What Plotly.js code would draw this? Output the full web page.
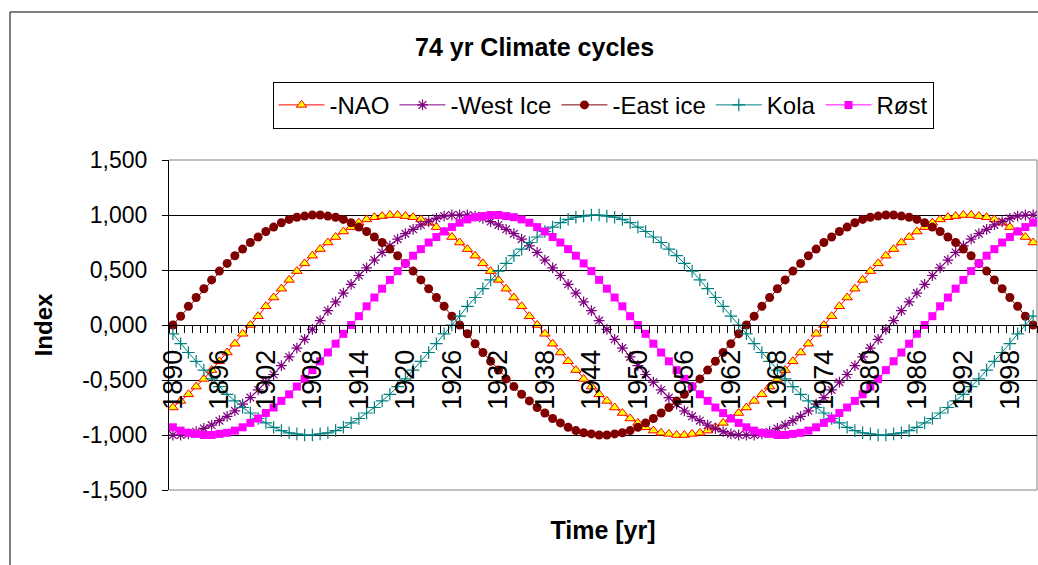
<!DOCTYPE html>
<html>
<head>
<meta charset="utf-8">
<script src="https://cdn.plot.ly/plotly-3.0.1.min.js"></script>
<style>html,body{margin:0;padding:0;background:#fff;}#chart{width:1038px;height:565px;}</style>
</head>
<body>
<div id="chart"></div>
<script>
var years = [1890,1891,1892,1893,1894,1895,1896,1897,1898,1899,1900,1901,1902,1903,1904,1905,1906,1907,1908,1909,
1910,1911,1912,1913,1914,1915,1916,1917,1918,1919,1920,1921,1922,1923,1924,1925,1926,1927,1928,1929,
1930,1931,1932,1933,1934,1935,1936,1937,1938,1939,1940,1941,1942,1943,1944,1945,1946,1947,1948,1949,
1950,1951,1952,1953,1954,1955,1956,1957,1958,1959,1960,1961,1962,1963,1964,1965,1966,1967,1968,1969,
1970,1971,1972,1973,1974,1975,1976,1977,1978,1979,1980,1981,1982,1983,1984,1985,1986,1987,1988,1989,
1990,1991,1992,1993,1994,1995,1996,1997,1998,1999,2000,2001];

var nao = [-0.75,-0.69,-0.63,-0.56,-0.49,-0.41,-0.33,-0.25,-0.17,-0.08,0,0.08,0.17,0.25,0.33,0.41,0.49,0.56,0.63,0.69,0.75,0.8,0.85,0.89,0.93,0.96,0.98,0.99,1,
1,0.99,0.98,0.96,0.93,0.89,0.85,0.8,0.75,0.69,0.63,0.56,0.49,0.41,0.33,0.25,0.17,0.08,0,-0.08,-0.17,-0.25,-0.33,-0.41,-0.49,-0.56,-0.63,-0.69,-0.75,-0.8,-0.85,-0.89,-0.93,-0.96,-0.98,-0.99,-1,
-1,-0.99,-0.98,-0.96,-0.93,-0.89,-0.85,-0.8,-0.75,-0.69,-0.63,-0.56,-0.49,-0.41,-0.33,-0.25,-0.17,-0.08,0,0.08,0.17,0.25,0.33,0.41,0.49,0.56,0.63,0.69,0.75,0.8,0.85,0.89,0.93,0.96,0.98,0.99,1,
1,0.99,0.98,0.96,0.93,0.89,0.85,0.8,0.75];

var westIce = [-1,-1,-0.99,-0.97,-0.94,-0.91,-0.87,-0.83,-0.78,-0.72,-0.66,-0.59,-0.52,-0.45,-0.37,-0.29,-0.21,-0.13,-0.04,0.04,0.13,0.21,0.29,0.37,0.45,0.52,0.59,0.66,0.72,0.78,0.83,0.87,0.91,0.94,0.97,0.99,1,1,
1,0.99,0.97,0.94,0.91,0.87,0.83,0.78,0.72,0.66,0.59,0.52,0.45,0.37,0.29,0.21,0.13,0.04,-0.04,-0.13,-0.21,-0.29,-0.37,-0.45,-0.52,-0.59,-0.66,-0.72,-0.78,-0.83,-0.87,-0.91,-0.94,-0.97,-0.99,-1,-1,
-1,-0.99,-0.97,-0.94,-0.91,-0.87,-0.83,-0.78,-0.72,-0.66,-0.59,-0.52,-0.45,-0.37,-0.29,-0.21,-0.13,-0.04,0.04,0.13,0.21,0.29,0.37,0.45,0.52,0.59,0.66,0.72,0.78,0.83,0.87,0.91,0.94,0.97,0.99,1,1];

var eastIce = [0,0.08,0.17,0.25,0.33,0.41,0.49,0.56,0.63,0.69,0.75,0.8,0.85,0.89,0.93,0.96,0.98,0.99,1,
1,0.99,0.98,0.96,0.93,0.89,0.85,0.8,0.75,0.69,0.63,0.56,0.49,0.41,0.33,0.25,0.17,0.08,0,-0.08,-0.17,-0.25,-0.33,-0.41,-0.49,-0.56,-0.63,-0.69,-0.75,-0.8,-0.85,-0.89,-0.93,-0.96,-0.98,-0.99,-1,
-1,-0.99,-0.98,-0.96,-0.93,-0.89,-0.85,-0.8,-0.75,-0.69,-0.63,-0.56,-0.49,-0.41,-0.33,-0.25,-0.17,-0.08,0,0.08,0.17,0.25,0.33,0.41,0.49,0.56,0.63,0.69,0.75,0.8,0.85,0.89,0.93,0.96,0.98,0.99,1,
1,0.99,0.98,0.96,0.93,0.89,0.85,0.8,0.75,0.69,0.63,0.56,0.49,0.41,0.33,0.25,0.17,0.08,0];

var kola = [-0.08,-0.17,-0.25,-0.33,-0.41,-0.49,-0.56,-0.63,-0.69,-0.75,-0.8,-0.85,-0.89,-0.93,-0.96,-0.98,-0.99,-1,
-1,-0.99,-0.98,-0.96,-0.93,-0.89,-0.85,-0.8,-0.75,-0.69,-0.63,-0.56,-0.49,-0.41,-0.33,-0.25,-0.17,-0.08,0,0.08,0.17,0.25,0.33,0.41,0.49,0.56,0.63,0.69,0.75,0.8,0.85,0.89,0.93,0.96,0.98,0.99,1,
1,0.99,0.98,0.96,0.93,0.89,0.85,0.8,0.75,0.69,0.63,0.56,0.49,0.41,0.33,0.25,0.17,0.08,0,-0.08,-0.17,-0.25,-0.33,-0.41,-0.49,-0.56,-0.63,-0.69,-0.75,-0.8,-0.85,-0.89,-0.93,-0.96,-0.98,-0.99,-1,
-1,-0.99,-0.98,-0.96,-0.93,-0.89,-0.85,-0.8,-0.75,-0.69,-0.63,-0.56,-0.49,-0.41,-0.33,-0.25,-0.17,-0.08,0,0.08];

var rost = [-0.93,-0.96,-0.98,-0.99,-1,
-1,-0.99,-0.98,-0.96,-0.93,-0.89,-0.85,-0.8,-0.75,-0.69,-0.63,-0.56,-0.49,-0.41,-0.33,-0.25,-0.17,-0.08,0,0.08,0.17,0.25,0.33,0.41,0.49,0.56,0.63,0.69,0.75,0.8,0.85,0.89,0.93,0.96,0.98,0.99,1,
1,0.99,0.98,0.96,0.93,0.89,0.85,0.8,0.75,0.69,0.63,0.56,0.49,0.41,0.33,0.25,0.17,0.08,0,-0.08,-0.17,-0.25,-0.33,-0.41,-0.49,-0.56,-0.63,-0.69,-0.75,-0.8,-0.85,-0.89,-0.93,-0.96,-0.98,-0.99,-1,
-1,-0.99,-0.98,-0.96,-0.93,-0.89,-0.85,-0.8,-0.75,-0.69,-0.63,-0.56,-0.49,-0.41,-0.33,-0.25,-0.17,-0.08,0,0.08,0.17,0.25,0.33,0.41,0.49,0.56,0.63,0.69,0.75,0.8,0.85,0.89,0.93];

var xTickVals = [1890,1896,1902,1908,1914,1920,1926,1932,1938,1944,1950,1956,1962,1968,1974,1980,1986,1992,1998];
var xTickText = ["1890","1896","1902","1908","1914","1920","1926","1932","1938","1944","1950","1956","1962","1968","1974","1980","1986","1992","1998"];
var yTickVals = [-1.5,-1,-0.5,0,0.5,1,1.5];
var yTickText = ["-1,500","-1,000","-0,500","0,000","0,500","1,000","1,500"];

var FONT = "'Liberation Sans', Arial, sans-serif";

var traces = [
  {x: years, y: nao, name: "-NAO", type: "scatter", mode: "lines+markers",
   line: {color: "#FF0000", width: 1},
   marker: {symbol: "triangle-up", size: 9, color: "#FFFF00", line: {color: "#FF0000", width: 1}}},
  {x: years, y: westIce, name: "-West Ice", type: "scatter", mode: "lines+markers",
   line: {color: "#800080", width: 1},
   marker: {symbol: "asterisk-open", size: 9, color: "#800080", line: {color: "#800080", width: 1.2}}},
  {x: years, y: eastIce, name: "-East ice", type: "scatter", mode: "lines+markers",
   line: {color: "#800000", width: 1},
   marker: {symbol: "circle", size: 9, color: "#800000"}},
  {x: years, y: kola, name: "Kola", type: "scatter", mode: "lines+markers",
   line: {color: "#008080", width: 1},
   marker: {symbol: "cross-thin-open", size: 9, color: "#008080", line: {color: "#008080", width: 1.2}}},
  {x: years, y: rost, name: "Røst", type: "scatter", mode: "lines+markers",
   line: {color: "#FF00FF", width: 1},
   marker: {symbol: "square", size: 8, color: "#FF00FF"}}
];

var layout = {
  width: 1038, height: 565,
  margin: {l: 169, r: 1, t: 160, b: 75, pad: 0},
  paper_bgcolor: "#ffffff", plot_bgcolor: "#ffffff",
  font: {family: FONT, color: "#000000"},
  showlegend: true,
  title: {text: "74 yr Climate cycles", x: 0.515, xref: "container", xanchor: "center",
          y: 0.917, yref: "container", yanchor: "middle",
          font: {family: FONT, size: 25, weight: "bold", color: "#000"}},
  legend: {orientation: "h", x: 0.5, xanchor: "center", y: 1.237, yanchor: "top",
           bordercolor: "#000000", borderwidth: 1, bgcolor: "#ffffff",
           font: {family: FONT, size: 24, color: "#000"}, itemwidth: 46},
  xaxis: {type: "linear", anchor: "free", position: 0.5, side: "bottom",
          range: [1889.5, 2001.5], showgrid: false, zeroline: false,
          showline: true, linecolor: "#000000", linewidth: 1,
          tickmode: "array", tickvals: xTickVals, ticktext: xTickText, ticks: "",
          tickangle: -90, ticklabelstandoff: 13,
          tickfont: {family: FONT, size: 27, color: "#000"},
          minor: {tickmode: "linear", tick0: 1889.5, dtick: 1, ticks: "outside", ticklen: 7, tickcolor: "#000", tickwidth: 1, showgrid: false},
          title: {text: "Time [yr]", standoff: 112, font: {family: FONT, size: 25, weight: "bold", color: "#000"}}},
  yaxis: {range: [-1.5, 1.5], tickmode: "array", tickvals: yTickVals, ticktext: yTickText,
          showgrid: true, gridcolor: "#000000", gridwidth: 1, zeroline: false,
          showline: true, linecolor: "#000000", linewidth: 1,
          ticks: "outside", ticklen: 6, tickcolor: "#000", ticklabelstandoff: 10,
          tickfont: {family: FONT, size: 23, color: "#000"},
          title: {text: "Index", standoff: 22, font: {family: FONT, size: 24, weight: "bold", color: "#000"}}},
  shapes: [
    {type: "path", xref: "paper", yref: "paper", path: "M 0,1 L 1,1 L 1,0 L 0,0",
     line: {color: "#808080", width: 1}, layer: "between"},
    {type: "path", xref: "paper", yref: "paper", path: "M -0.1832,-0.4 L -0.1832,1.4485 L 1.2,1.4485",
     line: {color: "#000000", width: 1}, layer: "above"}
  ]
};

Plotly.newPlot("chart", traces, layout, {staticPlot: true, displayModeBar: false});
</script>
</body>
</html>
